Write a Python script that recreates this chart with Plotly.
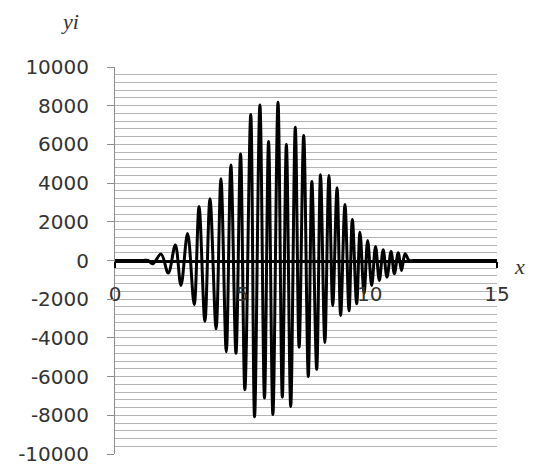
import plotly.graph_objects as go

# Extrema of the oscillating signal (x, y_i)
x_vals = [0, 1.10, 1.30, 1.48, 1.81, 2.09, 2.37, 2.59, 2.85, 3.11, 3.30, 3.53, 3.73,
          3.97, 4.16, 4.37, 4.55, 4.75, 4.93, 5.10, 5.33, 5.48, 5.69, 5.87,
          6.03, 6.20, 6.40, 6.57, 6.73, 6.90, 7.08, 7.23, 7.41, 7.59, 7.73,
          7.92, 8.07, 8.24, 8.40, 8.55, 8.72, 8.86, 9.03, 9.19, 9.32, 9.49,
          9.62, 9.78, 9.92, 10.08, 10.23, 10.38, 10.53, 10.68, 10.84, 10.97,
          11.12, 11.25, 11.39, 11.55, 11.70, 15]
y_vals = [0, 0, 0, -170, 330, -650, 800, -1290, 1400, -2280, 2790, -3140, 3190,
          -3530, 4220, -4720, 4940, -4790, 5510, -6680, 7540, -8080, 8040, -7110,
          6150, -7960, 8180, -7060, 5990, -7540, 6890, -4480, 6460, -5990, 4080,
          -5620, 4430, -4240, 4390, -2330, 3760, -2840, 2890, -2600, 2120, -2240,
          1460, -1720, 1030, -1290, 720, -1030, 550, -860, 460, -690,
          400, -520, 350, 0, 0, 0]

x_ticks = [0, 5, 10, 15]
y_ticks = [-10000, -8000, -6000, -4000, -2000, 0, 2000, 4000, 6000, 8000, 10000]

fig = go.Figure()
fig.add_trace(go.Scatter(
    x=x_vals, y=y_vals, mode="lines",
    line=dict(color="black", width=3, shape="spline", smoothing=1.0),
    showlegend=False, hoverinfo="skip",
))

grid_col = "#b4b4b4"
fig.update_layout(
    width=528, height=457,
    margin=dict(l=107, r=39, t=59, b=11, autoexpand=False),
    paper_bgcolor="white", plot_bgcolor="white",
    font=dict(family="DejaVu Sans", size=20, color="#333333"),
    xaxis=dict(
        range=[0, 15], tickvals=x_ticks, ticktext=[str(v) for v in x_ticks],
        anchor="free", position=0.5, automargin=False,
        showgrid=False, zeroline=False,
        showline=True, linecolor="black", linewidth=2.5,
        ticks="outside", ticklen=6, tickwidth=2, tickcolor="black",
        ticklabelstandoff=9,
        tickfont=dict(family="DejaVu Sans", size=20, color="#333333"),
    ),
    yaxis=dict(
        range=[-10000, 10000], tickvals=y_ticks,
        ticktext=[str(v) for v in y_ticks], automargin=False,
        ticklabeloverflow="allow",
        showgrid=True, gridcolor=grid_col, gridwidth=1,
        zeroline=False,
        showline=True, linecolor="#8c8c8c", linewidth=1,
        ticks="outside", ticklen=7, tickcolor="#8c8c8c",
        ticklabelstandoff=14,
        minor=dict(dtick=400, tick0=0, showgrid=True, gridcolor=grid_col,
                   gridwidth=1, ticks=""),
        tickfont=dict(family="DejaVu Sans", size=20, color="#333333"),
    ),
    annotations=[
        dict(text="<i>yi</i>", xref="paper", yref="paper",
             x=-0.118, y=1.0, yshift=46, xanchor="center", yanchor="middle",
             showarrow=False,
             font=dict(family="Liberation Serif", size=22, color="#333333")),
        dict(text="<i>x</i>", xref="paper", yref="paper",
             x=1.0, y=0.5, xshift=22, yshift=-6, xanchor="center",
             yanchor="middle", showarrow=False,
             font=dict(family="Liberation Serif", size=22, color="#333333")),
    ],
)

fig.write_html("out.html")
